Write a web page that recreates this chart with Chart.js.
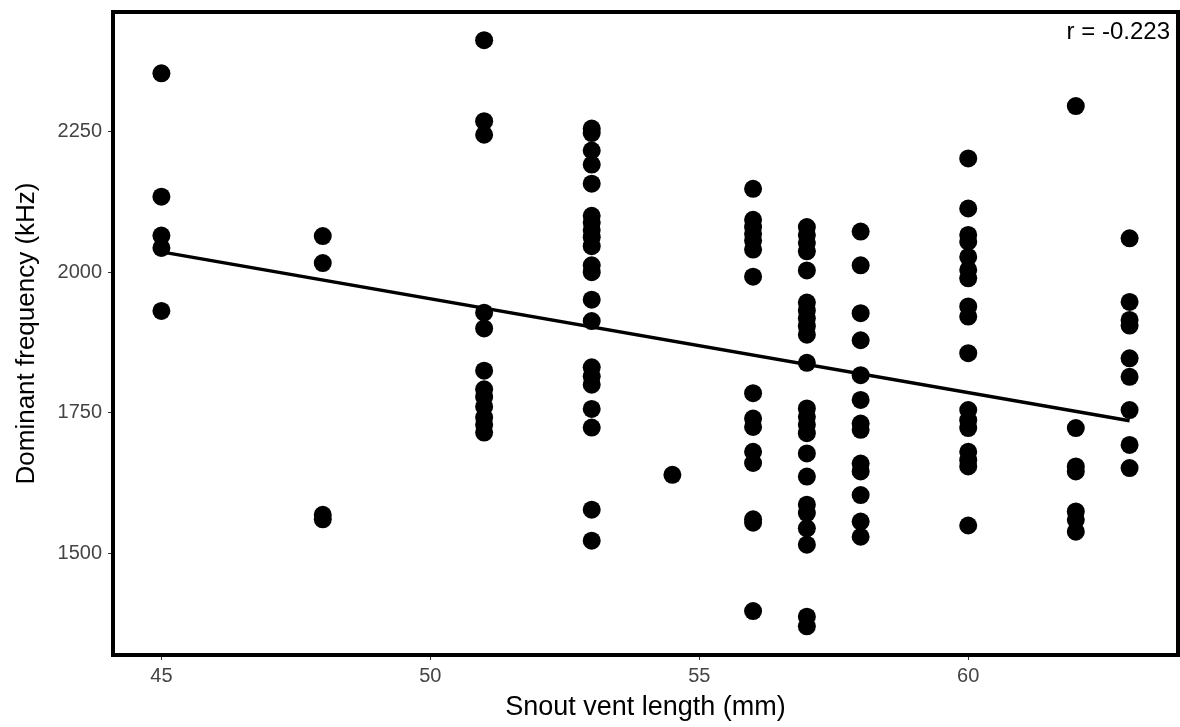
<!DOCTYPE html>
<html>
<head>
<meta charset="utf-8">
<script src="https://cdn.jsdelivr.net/npm/chart.js@4.4.0/dist/chart.umd.min.js"></script>
<style>
  html, body { margin: 0; padding: 0; background: #fff; }
</style>
</head>
<body>
<canvas id="chart" width="1180" height="727"></canvas>
<script>
// snout vent length (mm) of each group of calls
const svlGroups = [45, 48, 51, 53, 54.5, 56, 57, 58, 60, 62, 63];

// dominant frequency (kHz) read per group
const freq45 = [2353, 2134, 2065, 2043, 1931];
const freq48 = [2064, 2016, 1569, 1561];
const freq51 = [2412, 2268, 2244, 1928, 1900, 1825, 1792, 1778, 1761, 1742, 1729, 1715];
const freq53 = [2255, 2247, 2216, 2191, 2157, 2100, 2088, 2075, 2062, 2046, 2012, 2000,
                1951, 1913, 1831, 1815, 1800, 1757, 1724, 1578, 1523];
const freq545 = [1640];
const freq56 = [2148, 2093, 2080, 2068, 2056, 2040, 1992, 1785, 1740, 1725, 1681, 1661,
                1561, 1555, 1398];
const freq57 = [2080, 2066, 2052, 2037, 2003, 1946, 1932, 1918, 1904, 1889, 1839, 1758,
                1743, 1729, 1714, 1678, 1637, 1587, 1572, 1545, 1516, 1388, 1371];
const freq58 = [2072, 2012, 1927, 1879, 1817, 1773, 1731, 1720, 1660, 1646, 1604, 1557, 1530];
const freq60 = [2202, 2113, 2066, 2054, 2027, 2004, 1989, 1939, 1921, 1856, 1755, 1737,
                1723, 1681, 1666, 1655, 1550];
const freq62 = [2295, 1723, 1655, 1646, 1575, 1560, 1539];
const freq63 = [2060, 1947, 1915, 1905, 1847, 1814, 1755, 1693, 1652];
const freqByGroup = [freq45, freq48, freq51, freq53, freq545, freq56, freq57, freq58, freq60, freq62, freq63];

// linear fit, read at both ends
const fitX = [45, 63];
const fitY = [2036, 1736];

const xTicks = [45, 50, 55, 60];
const yTicks = [1500, 1750, 2000, 2250];
const rLabel = 'r = -0.223';

const FONT = '"Liberation Sans", Arial, Helvetica, sans-serif';

const points = svlGroups.flatMap((x, i) => freqByGroup[i].map(y => ({x: x, y: y})));
const fitPoints = fitX.map((x, i) => ({x: x, y: fitY[i]}));

// box round the panel + the r annotation
const frameAndLabel = {
  id: 'frameAndLabel',
  afterDraw(chart) {
    const {ctx, chartArea: a} = chart;
    ctx.save();
    ctx.strokeStyle = '#000';
    ctx.lineWidth = 4;
    ctx.strokeRect(a.left, a.top, a.right - a.left, a.bottom - a.top);
    ctx.font = '24px ' + FONT;
    ctx.fillStyle = '#000';
    ctx.textAlign = 'right';
    ctx.textBaseline = 'alphabetic';
    ctx.fillText(rLabel, a.right - 8, a.top + 27);
    ctx.restore();
  }
};

// no auto padding from tick labels, the panel is placed by hand
function fixScale(s, size) {
  if (s.isHorizontal()) s.height = size; else s.width = size;
  s.paddingTop = 0;
  s.paddingBottom = 0;
  s.paddingLeft = 0;
  s.paddingRight = 0;
}

const tickGrid = {
  display: true,
  drawOnChartArea: false,
  drawTicks: true,
  tickLength: 5,
  color: '#333',
  lineWidth: 1
};

new Chart(document.getElementById('chart'), {
  type: 'scatter',
  data: {
    datasets: [
      {
        type: 'scatter',
        data: points,
        backgroundColor: '#000',
        borderWidth: 0,
        pointRadius: 9,
        pointHoverRadius: 9
      },
      {
        type: 'line',
        data: fitPoints,
        borderColor: '#000',
        borderWidth: 3.5,
        pointRadius: 0,
        fill: false
      }
    ]
  },
  options: {
    responsive: false,
    animation: false,
    devicePixelRatio: 1,
    layout: {autoPadding: false, padding: {top: 12, right: 2, left: 0, bottom: 0}},
    plugins: {legend: {display: false}, tooltip: {enabled: false}},
    scales: {
      x: {
        type: 'linear',
        min: 44.1,
        max: 63.9,
        afterBuildTicks: s => { s.ticks = xTicks.map(v => ({value: v})); },
        afterFit: s => fixScale(s, 72),
        grid: tickGrid,
        border: {display: false},
        ticks: {
          color: '#444',
          font: {size: 20, family: FONT},
          padding: 4,
          maxRotation: 0,
          callback: v => String(v)
        },
        title: {
          display: true,
          text: 'Snout vent length (mm)',
          color: '#000',
          font: {size: 27, family: FONT},
          padding: {top: 0, bottom: 3}
        }
      },
      y: {
        type: 'linear',
        min: 1320,
        max: 2462,
        afterBuildTicks: s => { s.ticks = yTicks.map(v => ({value: v})); },
        afterFit: s => fixScale(s, 113),
        grid: tickGrid,
        border: {display: false},
        ticks: {
          color: '#444',
          font: {size: 20, family: FONT},
          padding: 6,
          callback: v => String(v)
        },
        title: {
          display: true,
          text: 'Dominant frequency (kHz)',
          color: '#000',
          font: {size: 26, family: FONT},
          padding: {top: 11, bottom: 0}
        }
      }
    }
  },
  plugins: [frameAndLabel]
});
</script>
</body>
</html>
